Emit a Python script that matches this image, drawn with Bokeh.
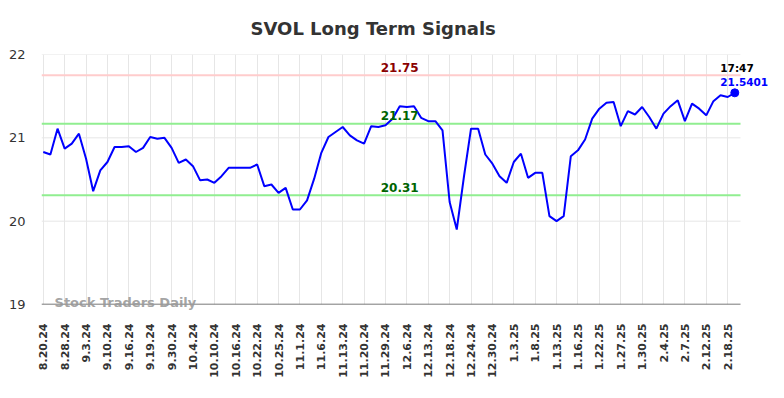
from bokeh.plotting import figure
from bokeh.models import Range1d, FixedTicker, Label, Title, ColumnDataSource
from bokeh.embed import file_html
from bokeh.resources import INLINE

tick_labels = ["8.20.24","8.28.24","9.3.24","9.10.24","9.16.24","9.19.24","9.30.24","10.4.24",
               "10.10.24","10.16.24","10.22.24","10.25.24","11.1.24","11.6.24","11.13.24","11.20.24",
               "11.29.24","12.6.24","12.13.24","12.18.24","12.24.24","12.30.24","1.3.25","1.8.25",
               "1.13.25","1.16.25","1.22.25","1.27.25","1.30.25","2.4.25","2.7.25","2.12.25","2.18.25"]

prices = [20.83, 20.80, 21.11, 20.87, 20.93, 21.05, 20.75, 20.36, 20.61, 20.71,
          20.89, 20.89, 20.90, 20.83, 20.88, 21.01, 20.99, 21.00, 20.88, 20.70,
          20.74, 20.66, 20.49, 20.50, 20.46, 20.54, 20.64, 20.64, 20.64, 20.64,
          20.68, 20.42, 20.44, 20.34, 20.40, 20.14, 20.14, 20.25, 20.51, 20.82,
          21.01, 21.07, 21.13, 21.03, 20.97, 20.93, 21.14, 21.13, 21.15, 21.23,
          21.38, 21.37, 21.38, 21.24, 21.20, 21.20, 21.09, 20.23, 19.90, 20.53,
          21.11, 21.11, 20.80, 20.69, 20.54, 20.46, 20.71, 20.81, 20.52, 20.58,
          20.58, 20.06, 20.00, 20.06, 20.78, 20.85, 20.98, 21.23, 21.35, 21.42,
          21.43, 21.14, 21.32, 21.28, 21.37, 21.25, 21.11, 21.29, 21.38, 21.45,
          21.20, 21.41, 21.35, 21.27, 21.44, 21.51, 21.49, 21.5401]

resistance = 21.75
upper_support = 21.17
lower_support = 20.31
last_time = "17:47"
y_ticks = [19, 20, 21, 22]
tick_step = 3

idx = list(range(len(prices)))
tick_pos = [i * tick_step for i in range(len(tick_labels))]

FONT = "DejaVu Sans"

# plot-area extent (in index units) and extra room on the right for the last-value note
X_START, X_END = -0.25, 97.8
AREA_W = 699
EXTRA_W = 30
x_range_end = X_START + (X_END - X_START) * (AREA_W + EXTRA_W) / AREA_W

p = figure(frame_width=AREA_W + EXTRA_W, frame_height=250, output_backend="svg", toolbar_location=None,
           x_range=Range1d(X_START, x_range_end), y_range=Range1d(y_ticks[0], y_ticks[-1]),
           min_border_left=41, min_border_right=784 - 41 - AREA_W - EXTRA_W,
           min_border_top=53, min_border_bottom=79,
           background_fill_color="white", border_fill_color="white")
p.outline_line_color = None

t = Title(text="SVOL Long Term Signals", align="left", text_font=FONT, text_font_size="18px",
          text_font_style="bold", text_color="#333333", offset=209, standoff=31)
p.add_layout(t, "above")

# axes
xa = p.xaxis[0]
xa.ticker = FixedTicker(ticks=tick_pos)
xa.major_label_overrides = {pos: lab for pos, lab in zip(tick_pos, tick_labels)}
xa.major_label_orientation = 1.5708
xa.major_label_text_font = FONT
xa.major_label_text_font_size = "11px"
xa.major_label_text_font_style = "bold"
xa.major_label_text_color = "#333333"
xa.major_tick_line_color = None
xa.minor_tick_line_color = None
xa.major_tick_out = 0
xa.major_tick_in = 0
xa.minor_tick_out = 0
xa.axis_line_color = None
xa.major_label_standoff = 19

ya = p.yaxis[0]
ya.ticker = FixedTicker(ticks=y_ticks)
ya.major_label_text_font = FONT
ya.major_label_text_font_size = "13px"
ya.major_label_text_color = "#333333"
ya.major_tick_line_color = None
ya.minor_tick_line_color = None
ya.major_tick_out = 0
ya.major_tick_in = 0
ya.minor_tick_out = 0
ya.axis_line_color = None
ya.major_label_standoff = 16

p.xgrid.grid_line_color = "#e6e6e6"
p.xgrid.grid_line_width = 1
p.ygrid.grid_line_color = None

# horizontal grid lines limited to the plot area
p.segment(x0=[X_START] * len(y_ticks), x1=[X_END] * len(y_ticks), y0=y_ticks, y1=y_ticks,
          line_color="#e6e6e6", line_width=1)
# level lines
levels = [resistance, upper_support, lower_support]
level_colors = ["#ffcccc", "#90ee90", "#90ee90"]
p.segment(x0=[X_START] * 3, x1=[X_END] * 3, y0=levels, y1=levels, line_color=level_colors, line_width=2)
# x axis line
p.segment(x0=[X_START], x1=[X_END], y0=[y_ticks[0]], y1=[y_ticks[0]], line_color="#555555", line_width=1.5)

src = ColumnDataSource(dict(x=idx, y=prices))
p.line("x", "y", source=src, line_color="#0000ff", line_width=2)
p.scatter(x=[idx[-1]], y=[prices[-1]], size=8, color="#0000ff")

mid = (len(prices) - 1) / 2 + 1.5
for lvl, col in [(resistance, "#8b0000"), (upper_support, "#006400"), (lower_support, "#006400")]:
    p.add_layout(Label(x=mid, y=lvl, text=f"{lvl:.2f}", text_font=FONT, text_font_size="12px",
                       text_font_style="bold", text_color=col, text_align="center",
                       text_baseline="alphabetic", y_offset=8))

p.add_layout(Label(x=idx[-1], y=prices[-1], text=last_time, text_font=FONT, text_font_size="10.5px",
                   text_font_style="bold", text_color="black", text_align="left",
                   text_baseline="alphabetic", x_offset=-14.5, y_offset=24.5))
p.add_layout(Label(x=idx[-1], y=prices[-1], text=f"{prices[-1]:.4f}", text_font=FONT,
                   text_font_size="10.5px", text_font_style="bold", text_color="#0000ff",
                   text_align="left", text_baseline="alphabetic", x_offset=-14.5, y_offset=11))

p.add_layout(Label(x=1.58, y=19, text="Stock Traders Daily", text_font=FONT, text_font_size="13px",
                   text_font_style="bold", text_color="#999999", text_alpha=0.9,
                   text_align="left", text_baseline="alphabetic", y_offset=2), "below")

open("out.html", "w").write(file_html(p, INLINE))
